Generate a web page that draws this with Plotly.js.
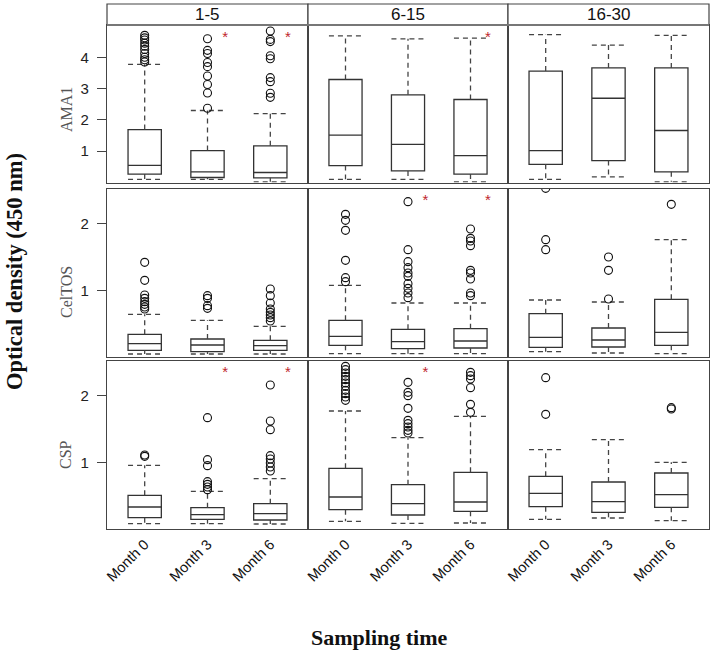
<!DOCTYPE html>
<html>
<head>
<meta charset="utf-8">
<script src="https://cdn.plot.ly/plotly-3.0.1.min.js"></script>
<style>html,body{margin:0;padding:0;background:#fff}#chart{width:715px;height:650px}</style>
</head>
<body>
<div id="chart"></div>
<script>
// ---- data ----
const months = ["Month 0", "Month 3", "Month 6"];
const ageGroups = ["1-5", "6-15", "16-30"];
const antigens = ["AMA1", "CelTOS", "CSP"];

// stats indexed [ageGroup][month]
const AMA1_q1   = [[0.27,0.16,0.15],[0.54,0.37,0.27],[0.58,0.70,0.34]];
const AMA1_med  = [[0.55,0.34,0.32],[1.51,1.22,0.86],[1.02,2.69,1.66]];
const AMA1_q3   = [[1.69,1.02,1.17],[3.29,2.80,2.65],[3.56,3.66,3.66]];
const AMA1_lo   = [[0.10,0.10,0.02],[0.10,0.10,0.02],[0.10,0.18,0.02]];
const AMA1_hi   = [[3.77,2.30,2.20],[4.68,4.59,4.61],[4.72,4.39,4.70]];
const AMA1_out  = [
  [[4.70,4.62,4.55,4.45,4.35,4.25,4.12,4.00,3.92,3.85],[4.59,4.22,4.12,3.83,3.70,3.40,3.13,2.86,2.37],[4.84,4.57,4.50,4.05,3.95,3.35,3.22,2.85,2.72]],
  [[],[],[]],
  [[],[],[]]
];
const CelTOS_q1  = [[0.10,0.08,0.10],[0.175,0.125,0.135],[0.145,0.15,0.175]];
const CelTOS_med = [[0.20,0.18,0.17],[0.31,0.23,0.24],[0.295,0.255,0.37]];
const CelTOS_q3  = [[0.34,0.27,0.25],[0.55,0.415,0.425],[0.65,0.435,0.865]];
const CelTOS_lo  = [[0.045,0.045,0.045],[0.05,0.05,0.05],[0.08,0.06,0.05]];
const CelTOS_hi  = [[0.64,0.55,0.46],[1.075,0.81,0.81],[0.855,0.825,1.76]];
const CelTOS_out = [
  [[1.42,1.15,0.93,0.88,0.83,0.79,0.75,0.72],[0.92,0.88,0.77,0.73],[1.02,0.92,0.81,0.72,0.67,0.63,0.59,0.54]],
  [[2.14,2.05,1.90,1.45,1.19,1.13],[2.33,1.61,1.43,1.34,1.26,1.21,1.10,1.03,0.96,0.89],[1.92,1.78,1.74,1.67,1.30,1.26,1.17,0.96,0.92]],
  [[2.53,1.76,1.61],[1.50,1.30,0.87],[2.29]]
];
const CSP_q1  = [[0.17,0.145,0.135],[0.29,0.21,0.265],[0.335,0.25,0.325]];
const CSP_med = [[0.33,0.215,0.23],[0.48,0.38,0.405],[0.535,0.41,0.515]];
const CSP_q3  = [[0.505,0.32,0.38],[0.91,0.665,0.85],[0.79,0.705,0.84]];
const CSP_lo  = [[0.08,0.08,0.075],[0.115,0.085,0.09],[0.145,0.165,0.125]];
const CSP_hi  = [[0.955,0.565,0.755],[1.77,1.37,1.69],[1.19,1.34,1.00]];
const CSP_out = [
  [[1.11,1.09],[1.67,1.04,0.95,0.71,0.67,0.63,0.59],[2.16,1.62,1.49,1.10,1.05,0.99,0.93,0.87]],
  [[2.44,2.39,2.34,2.29,2.24,2.19,2.14,2.08,2.03,1.98,1.93],[2.20,2.05,2.00,1.81,1.63,1.58,1.53,1.48,1.44],[2.35,2.30,2.25,2.12,1.87,1.75]],
  [[2.27,1.72],[],[1.82,1.80]]
];
// significance flags (1 = asterisk) indexed [ageGroup][month]
const AMA1_sig   = [[0,1,1],[0,0,1],[0,0,0]];
const CelTOS_sig = [[0,0,0],[0,1,1],[0,0,0]];
const CSP_sig    = [[0,1,1],[0,1,0],[0,0,0]];

const yTicks = [[1,2,3,4],[1,2],[1,2]];
const yRanges = [[0,5.03],[0,2.52],[0,2.52]];

const stats = [
  {q1:AMA1_q1, med:AMA1_med, q3:AMA1_q3, lo:AMA1_lo, hi:AMA1_hi, out:AMA1_out, sig:AMA1_sig},
  {q1:CelTOS_q1, med:CelTOS_med, q3:CelTOS_q3, lo:CelTOS_lo, hi:CelTOS_hi, out:CelTOS_out, sig:CelTOS_sig},
  {q1:CSP_q1, med:CSP_med, q3:CSP_q3, lo:CSP_lo, hi:CSP_hi, out:CSP_out, sig:CSP_sig}
];

// ---- layout geometry ----
const W = 715, H = 650;
const colPx = [[107,308],[308,508],[508,709]];
const rowPx = [[25,182.5],[189,357],[361,529]];
const rowLabelY = [110, 292, 455];
const stripPx = [4,25];
const BOXW = 0.53;
const pos = [1,2,3];

const traces = [];
const layout = {
  width: W, height: H,
  margin: {l:0, r:0, t:0, b:0},
  paper_bgcolor: '#fff', plot_bgcolor: '#fff',
  showlegend: false,
  font: {family: 'Arial, Liberation Sans, sans-serif', color: '#222'},
  shapes: [], annotations: []
};

for (let r = 0; r < 3; r++) {
  for (let c = 0; c < 3; c++) {
    const idx = r*3 + c + 1;
    const xa = 'x' + (idx === 1 ? '' : idx);
    const ya = 'y' + (idx === 1 ? '' : idx);
    const xk = 'xaxis' + (idx === 1 ? '' : idx);
    const yk = 'yaxis' + (idx === 1 ? '' : idx);
    const s = stats[r];

    layout[xk] = {
      domain: [colPx[c][0]/W, colPx[c][1]/W],
      range: [0.4, 3.6], anchor: ya,
      showgrid: false, zeroline: false,
      showline: true, mirror: true, linecolor: '#444', linewidth: 1.2,
      tickvals: pos, ticktext: months,
      showticklabels: r === 2, ticks: '',
      tickangle: -45, tickfont: {size: 14.5, color: '#111'}
    };
    layout[yk] = {
      domain: [1 - rowPx[r][1]/H, 1 - rowPx[r][0]/H],
      range: yRanges[r], anchor: xa,
      showgrid: false, zeroline: false,
      showline: true, mirror: true, linecolor: '#444', linewidth: 1.2,
      tickvals: yTicks[r],
      showticklabels: c === 0, ticks: c === 0 ? 'outside' : '',
      ticklen: 9, tickcolor: '#444', tickwidth: 1,
      ticklabelstandoff: 5,
      tickfont: {size: 15, color: '#222'}
    };

    // boxes
    traces.push({
      type: 'box', xaxis: xa, yaxis: ya,
      x: pos,
      q1: s.q1[c], median: s.med[c], q3: s.q3[c],
      lowerfence: s.q1[c], upperfence: s.q3[c],
      width: BOXW, whiskerwidth: 0,
      fillcolor: '#fff', line: {color: '#333', width: 1.3},
      boxpoints: false, hoverinfo: 'skip'
    });

    // dashed whiskers
    const wx = [], wy = [];
    for (let m = 0; m < 3; m++) {
      const p = pos[m];
      wx.push(p, p, null, p - BOXW/2, p + BOXW/2, null, p, p, null, p - BOXW/2, p + BOXW/2, null);
      wy.push(s.q3[c][m], s.hi[c][m], null, s.hi[c][m], s.hi[c][m], null,
              s.q1[c][m], s.lo[c][m], null, s.lo[c][m], s.lo[c][m], null);
    }
    traces.push({
      type: 'scatter', mode: 'lines', xaxis: xa, yaxis: ya,
      x: wx, y: wy, line: {color: '#444', width: 1.3, dash: '5px,4px'},
      hoverinfo: 'skip'
    });

    // outliers
    const ox = [], oy = [];
    for (let m = 0; m < 3; m++) {
      s.out[c][m].forEach(v => { ox.push(pos[m]); oy.push(v); });
    }
    traces.push({
      type: 'scatter', mode: 'markers', xaxis: xa, yaxis: ya,
      x: ox, y: oy,
      marker: {symbol: 'circle-open', size: 8, color: '#111', line: {width: 1.1, color: '#111'}},
      cliponaxis: true, hoverinfo: 'skip'
    });

    // significance asterisks
    const ax = [], ay = [], at = [];
    const starY = yRanges[r][1] * (r === 0 ? 0.915 : 0.925);
    for (let m = 0; m < 3; m++) {
      if (s.sig[c][m]) { ax.push(pos[m] + 0.28); ay.push(starY); at.push('*'); }
    }
    if (ax.length) {
      traces.push({
        type: 'scatter', mode: 'text', xaxis: xa, yaxis: ya,
        x: ax, y: ay, text: at, textposition: 'middle center',
        textfont: {size: 15, color: '#c0262d', family: 'Arial'},
        hoverinfo: 'skip'
      });
    }
  }
}

// strips
for (let c = 0; c < 3; c++) {
  layout.shapes.push({
    type: 'rect', xref: 'paper', yref: 'paper',
    x0: colPx[c][0]/W, x1: colPx[c][1]/W,
    y0: 1 - stripPx[1]/H, y1: 1 - stripPx[0]/H,
    line: {color: '#444', width: 1.2}, fillcolor: '#fff', layer: 'below'
  });
  layout.shapes.push({
    type: 'line', xref: 'paper', yref: 'paper',
    x0: colPx[c][0]/W, x1: colPx[c][1]/W,
    y0: 1 - stripPx[1]/H, y1: 1 - stripPx[1]/H,
    line: {color: '#777', width: 2}
  });
  layout.annotations.push({
    xref: 'paper', yref: 'paper',
    x: (colPx[c][0] + colPx[c][1]) / 2 / W, y: 1 - (stripPx[0] + stripPx[1]) / 2 / H,
    text: ageGroups[c], showarrow: false,
    font: {size: 17, color: '#111', family: 'Arial, Liberation Sans, sans-serif'},
    xanchor: 'center', yanchor: 'middle'
  });
}

// row labels
for (let r = 0; r < 3; r++) {
  layout.annotations.push({
    xref: 'paper', yref: 'paper',
    x: 66/W, y: 1 - rowLabelY[r] / H,
    text: antigens[r], showarrow: false, textangle: -90,
    font: {size: 16, color: '#555', family: 'Liberation Serif, Times New Roman, serif'},
    xanchor: 'center', yanchor: 'middle'
  });
}

// global axis titles
layout.annotations.push({
  xref: 'paper', yref: 'paper', x: 14/W, y: 1 - 272/H,
  text: '<b>Optical density (450 nm)</b>', showarrow: false, textangle: -90,
  font: {size: 22.5, color: '#111', family: 'Liberation Serif, Times New Roman, serif'},
  xanchor: 'center', yanchor: 'middle'
});
layout.annotations.push({
  xref: 'paper', yref: 'paper', x: 379/W, y: 1 - 637/H,
  text: '<b>Sampling time</b>', showarrow: false,
  font: {size: 22, color: '#111', family: 'Liberation Serif, Times New Roman, serif'},
  xanchor: 'center', yanchor: 'middle'
});

Plotly.newPlot('chart', traces, layout, {staticPlot: true, displayModeBar: false});
</script>
</body>
</html>
